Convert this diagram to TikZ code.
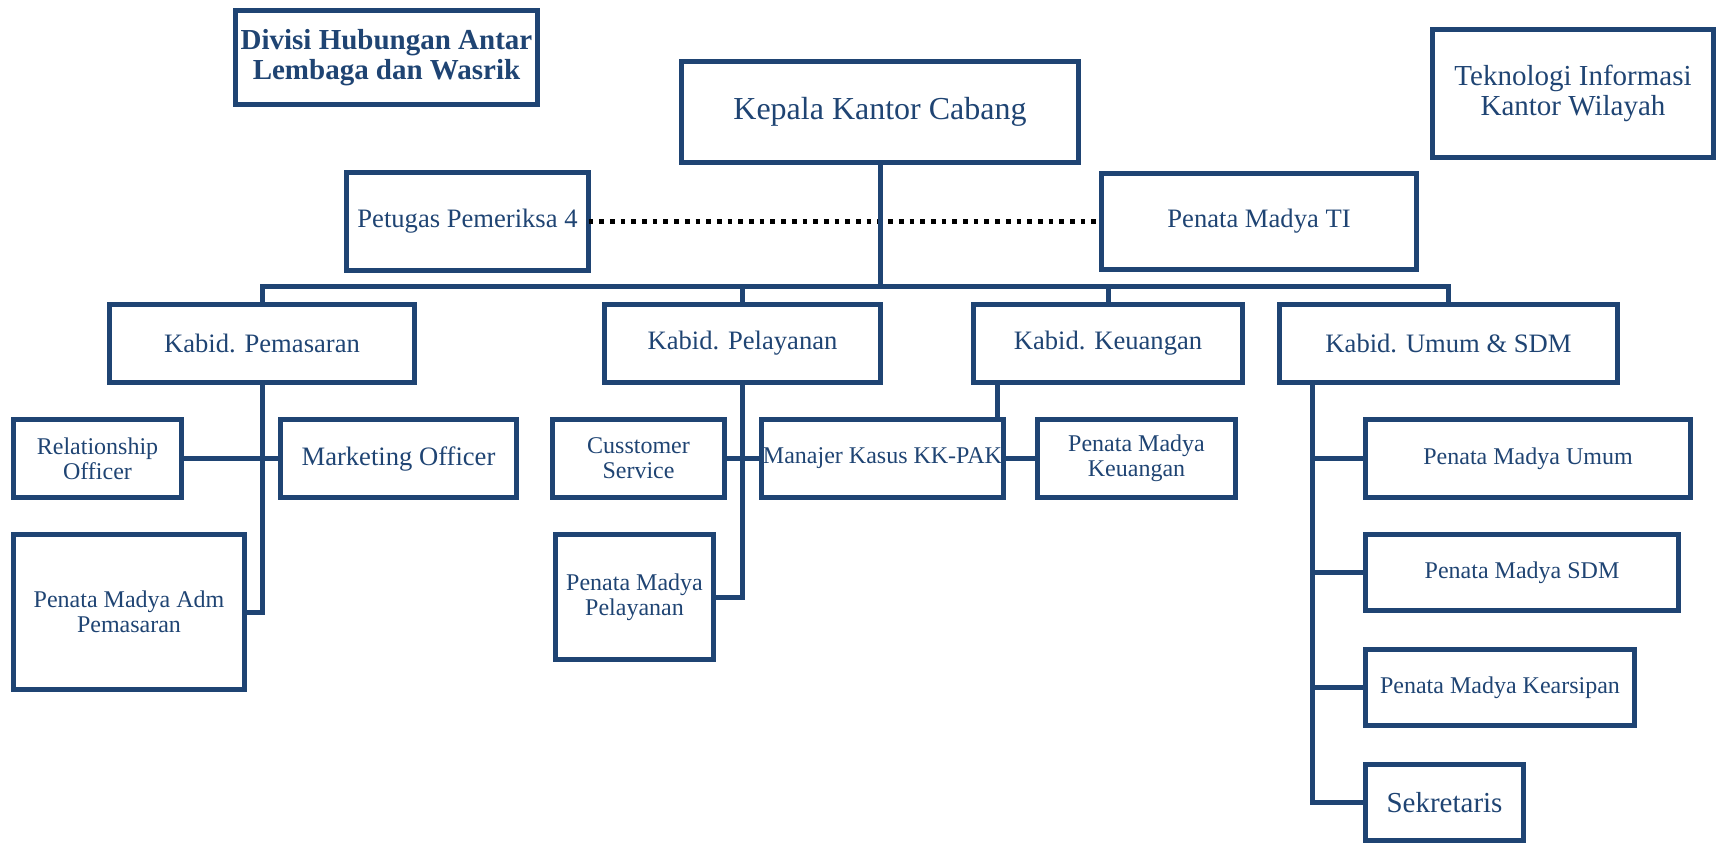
\documentclass[tikz,border=0pt]{standalone}
\usepackage{fontspec}
\setmainfont{Liberation Serif}
\definecolor{orgblue}{RGB}{31,68,115}
\begin{document}
\begin{tikzpicture}[x=1pt,y=-1pt,
  box/.style={rectangle,draw=orgblue,line width=5pt,text=orgblue,align=center,inner sep=0pt,outer sep=0pt},
  sz/.style 2 args={minimum width=#1,minimum height=#2},
  fsmall/.style={font=\fontsize{24}{24.7}\selectfont},
  fmid/.style={font=\fontsize{26.6}{28}\selectfont},
  fbig/.style={font=\fontsize{29}{29.5}\selectfont},
  fhead/.style={font=\fontsize{32}{34}\selectfont},
  fbold/.style={font=\fontsize{29}{30}\selectfont\bfseries},
  link/.style={draw=orgblue,line width=5pt},
  dotline/.style={draw=black,line width=4.7pt,dash pattern=on 4.7pt off 6pt}]
\useasboundingbox (0,0) rectangle (1719,849);

% top level
\node[box,fbold,sz={302pt}{94pt}] (divisi) at (386.5,57.5) {Divisi Hubungan Antar\\Lembaga dan Wasrik};
\node[box,fhead,sz={397pt}{101pt}] (kepala) at (880,112) {Kepala Kantor Cabang};
\node[box,fbig,sz={281pt}{128pt}] (ti) at (1573,93.5) {Teknologi Informasi\\Kantor Wilayah};

% staff level
\node[box,fmid,sz={242pt}{98pt}] (petugas) at (467.5,221.5) {Petugas Pemeriksa 4};
\node[box,fmid,sz={315pt}{96pt}] (pmti) at (1259,221.5) {Penata Madya TI};

% heads of division
\node[box,fmid,sz={305pt}{78pt}] (kpem) at (262,343.5) {Kabid. Pemasaran};
\node[box,fmid,sz={276pt}{78pt}] (kpel) at (742.5,343.5) {Kabid. Pelayanan};
\node[box,fmid,sz={269pt}{78pt}] (kkeu) at (1108,343.5) {Kabid. Keuangan};
\node[box,fmid,sz={338pt}{78pt}] (kumum) at (1448.5,343.5) {Kabid. Umum \& SDM};

% marketing
\node[box,fsmall,sz={168pt}{78pt}] (ro) at (97.5,458.5) {Relationship\\Officer};
\node[box,fmid,sz={236pt}{78pt}] (mo) at (398.5,458.5) {Marketing Officer};
\node[box,fsmall,sz={231pt}{155pt}] (pmadm) at (129,612) {Penata Madya Adm\\Pemasaran};

% service
\node[box,fsmall,sz={172pt}{78pt}] (cs) at (638.5,458.5) {Cusstomer\\Service};
\node[box,fsmall,sz={158pt}{125pt}] (pmpel) at (634.5,597) {Penata Madya\\Pelayanan};

% finance
\node[box,fsmall,sz={242pt}{78pt}] (mk) at (882.5,458.5) {Manajer Kasus KK-PAK};
\node[box,fsmall,sz={198pt}{78pt}] (pmk) at (1136.5,458.5) {Penata Madya\\Keuangan};

% general affairs & HR
\node[box,fsmall,sz={325pt}{78pt}] (pmu) at (1528,458.5) {Penata Madya Umum};
\node[box,fsmall,sz={313pt}{76pt}] (pmsdm) at (1522,572.5) {Penata Madya SDM};
\node[box,fsmall,sz={269pt}{76pt}] (pmkear) at (1500,687.5) {Penata Madya Kearsipan};
\node[box,fbig,sz={158pt}{76pt}] (sekr) at (1444.5,802.5) {Sekretaris};

% coordination line between staff boxes
\draw[dotline] (petugas.east) -- (pmti.west);

% main trunk and bus
\coordinate (busL) at (262,286);
\coordinate (busR) at (1448.5,286);
\draw[link] (kepala.south) -- (kepala.south |- busL);
\draw[link] (kpem.north) -- (busL) -- (busR) -- (kumum.north);
\draw[link] (kpel.north) -- (kpel.north |- busL);
\draw[link] (kkeu.north) -- (kkeu.north |- busL);

% marketing branch
\draw[link] (kpem.south) |- (pmadm.east);
\draw[link] (ro.east) -- (mo.west);

% service branch
\draw[link] (kpel.south) |- (pmpel.east);
\draw[link] (cs.east) -- (mk.west);

% finance branch
\coordinate (kx) at (997,0);
\draw[link] (kx |- kkeu.south) -- (kx |- mk.north);
\draw[link] (mk.east) -- (pmk.west);

% general affairs branch
\coordinate (ux) at (1312,0);
\draw[link] (ux |- kumum.south) |- (sekr.west);
\draw[link] (ux |- pmu.west) -- (pmu.west);
\draw[link] (ux |- pmsdm.west) -- (pmsdm.west);
\draw[link] (ux |- pmkear.west) -- (pmkear.west);
\end{tikzpicture}
\end{document}
